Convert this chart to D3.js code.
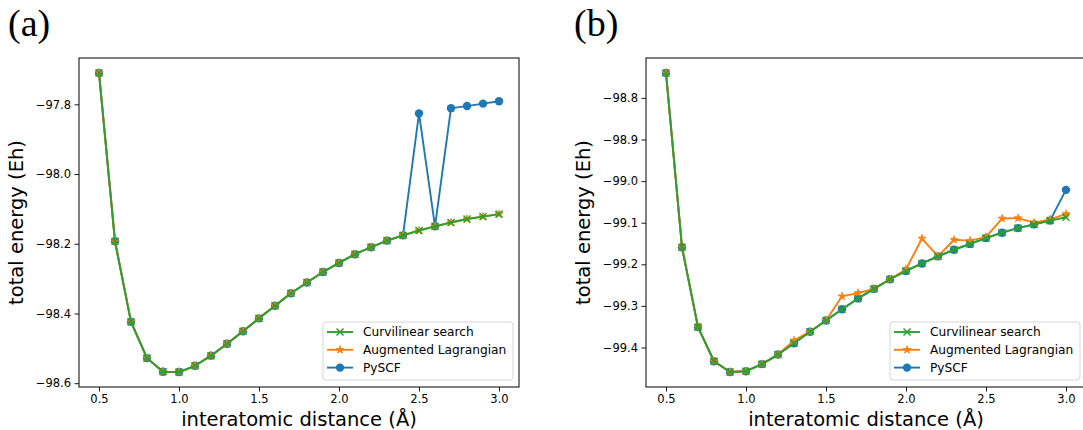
<!DOCTYPE html>
<html>
<head>
<meta charset="utf-8">
<script src="https://cdn.jsdelivr.net/npm/d3@7"></script>
<style>
  body { margin: 0; background: #fff; }
  svg { display: block; }
  text { font-family: "DejaVu Sans", sans-serif; fill: #000; }
  .panel-label { font-family: "Liberation Serif", "Times New Roman", serif; font-size: 38px; }
  .tick-label { font-size: 11.5px; }
  .axis-title { font-size: 19.5px; }
  .legend-text { font-size: 12.2px; }
</style>
</head>
<body>
<div id="chart"></div>
<script>

// interatomic distance in Å
const distances = [0.5, 0.6, 0.7, 0.8, 0.9, 1.0, 1.1, 1.2, 1.3, 1.4, 1.5, 1.6, 1.7,
	1.8, 1.9, 2.0, 2.1, 2.2, 2.3, 2.4, 2.5, 2.6, 2.7, 2.8, 2.9, 3.0];

// panel (a)
const curvilinearA = [-97.710, -98.193, -98.424, -98.528, -98.567, -98.568, -98.550, -98.521,
	-98.487, -98.451, -98.414, -98.378, -98.342, -98.311, -98.281, -98.255, -98.230,
	-98.210, -98.191, -98.176, -98.162, -98.150, -98.139, -98.129, -98.122, -98.115];
const augmentedA = [-97.710, -98.193, -98.424, -98.528, -98.567, -98.568, -98.550, -98.521,
	-98.487, -98.451, -98.414, -98.378, -98.342, -98.311, -98.281, -98.255, -98.230,
	-98.210, -98.191, -98.176, -98.162, -98.150, -98.139, -98.129, -98.122, -98.115];
const pyscfA = [-97.710, -98.193, -98.424, -98.528, -98.567, -98.568, -98.550, -98.521,
	-98.487, -98.451, -98.414, -98.378, -98.342, -98.311, -98.281, -98.255, -98.230,
	-98.210, -98.191, -98.176, -97.826, -98.150, -97.811, -97.805, -97.798, -97.791];

// panel (b)
const curvilinearB = [-98.740, -99.159, -99.351, -99.433, -99.459, -99.457, -99.440, -99.417,
	-99.390, -99.362, -99.335, -99.308, -99.282, -99.259, -99.236, -99.216, -99.198,
	-99.181, -99.165, -99.151, -99.137, -99.124, -99.113, -99.104, -99.095, -99.087];
const augmentedB = [-98.740, -99.159, -99.351, -99.433, -99.459, -99.457, -99.440, -99.417,
	-99.383, -99.362, -99.335, -99.277, -99.269, -99.259, -99.236, -99.212, -99.138,
	-99.181, -99.141, -99.143, -99.134, -99.090, -99.089, -99.100, -99.092, -99.079];
const pyscfB = [-98.740, -99.159, -99.351, -99.433, -99.459, -99.457, -99.440, -99.417,
	-99.390, -99.362, -99.335, -99.308, -99.282, -99.259, -99.236, -99.216, -99.198,
	-99.181, -99.165, -99.151, -99.137, -99.124, -99.113, -99.104, -99.095, -99.021];

const xTicks = [0.5, 1.0, 1.5, 2.0, 2.5, 3.0];
const yTicksA = [-97.8, -98.0, -98.2, -98.4, -98.6];
const yTicksB = [-98.8, -98.9, -99.0, -99.1, -99.2, -99.3, -99.4];

const seriesNames = ["Curvilinear search", "Augmented Lagrangian", "PySCF"];

const WIDTH = 1083;
const HEIGHT = 430;
const PLOT_W = 440;
const PLOT_TOP = 58;
const PLOT_BOTTOM = 387;
const TICK_SIZE = 4.5;
const LINE_W = 1.9;

const colors = {
	pyscf: "#1f77b4",
	augmented: "#ff7f0e",
	curvilinear: "#2ca02c"
};

const svg = d3.select("#chart").append("svg")
	.attr("width", WIDTH)
	.attr("height", HEIGHT);

function drawMarker (g, kind, x, y) {
	if (kind == "pyscf") {
		g.append("circle")
			.attr("cx", x).attr("cy", y).attr("r", 4.2)
			.attr("fill", colors.pyscf);
	} else if (kind == "augmented") {
		g.append("path")
			.attr("transform", `translate(${x},${y})`)
			.attr("d", d3.symbol(d3.symbolStar, 20)())
			.attr("fill", colors.augmented)
			.attr("stroke", colors.augmented)
			.attr("stroke-width", 0.8);
	} else {
		const s = 3.5;
		g.append("path")
			.attr("d", `M${x - s},${y - s}L${x + s},${y + s}M${x - s},${y + s}L${x + s},${y - s}`)
			.attr("stroke", colors.curvilinear)
			.attr("stroke-width", 1.5)
			.attr("fill", "none");
	}
}

function drawPanel (opts) {

	const left = opts.left;
	const all = opts.curvilinear.concat(opts.augmented, opts.pyscf);
	const ext = d3.extent(all);
	const pad = (ext[1] - ext[0]) * 0.05;

	const x = d3.scaleLinear()
		.domain([0.5 - 0.125, 3.0 + 0.125])
		.range([left, left + PLOT_W]);

	const y = d3.scaleLinear()
		.domain([ext[0] - pad, ext[1] + pad])
		.range([PLOT_BOTTOM, PLOT_TOP]);

	const g = svg.append("g");

	// panel label
	g.append("text")
		.attr("class", "panel-label")
		.attr("x", opts.labelX)
		.attr("y", 36)
		.text(opts.label);

	// axes
	const axisX = g.append("g")
		.attr("transform", `translate(0,${PLOT_BOTTOM})`)
		.call(d3.axisBottom(x).tickValues(xTicks).tickSize(TICK_SIZE).tickPadding(3.5)
			.tickFormat(d3.format(".1f")));

	const axisY = g.append("g")
		.attr("transform", `translate(${left},0)`)
		.call(d3.axisLeft(y).tickValues(opts.yTicks).tickSize(TICK_SIZE).tickPadding(3.5)
			.tickFormat(d3.format(".1f")));

	[axisX, axisY].forEach(a => {
		a.select(".domain").remove();
		a.selectAll("line").attr("stroke", "#000").attr("stroke-width", 0.9);
		a.selectAll("text").attr("class", "tick-label").attr("font-family", null).attr("font-size", null);
	});

	// series: PySCF underneath, curvilinear on top
	const clip = "clip-" + opts.label.replace(/\W/g, "");
	g.append("clipPath").attr("id", clip)
		.append("rect")
		.attr("x", left).attr("y", PLOT_TOP)
		.attr("width", PLOT_W).attr("height", PLOT_BOTTOM - PLOT_TOP);

	const plot = g.append("g").attr("clip-path", `url(#${clip})`);

	const line = d3.line()
		.x(d => x(d[0]))
		.y(d => y(d[1]));

	[["pyscf", opts.pyscf], ["augmented", opts.augmented], ["curvilinear", opts.curvilinear]].forEach(([kind, values]) => {
		const pts = distances.map((d, i) => [d, values[i]]);
		const sg = plot.append("g");
		sg.append("path")
			.attr("d", line(pts))
			.attr("fill", "none")
			.attr("stroke", colors[kind])
			.attr("stroke-width", LINE_W)
			.attr("stroke-linejoin", "round");
		pts.forEach(p => drawMarker(sg, kind, x(p[0]), y(p[1])));
	});

	// frame
	g.append("rect")
		.attr("x", left).attr("y", PLOT_TOP)
		.attr("width", PLOT_W).attr("height", PLOT_BOTTOM - PLOT_TOP)
		.attr("fill", "none")
		.attr("stroke", "#000")
		.attr("stroke-width", 1);

	// axis titles
	g.append("text")
		.attr("class", "axis-title")
		.attr("text-anchor", "middle")
		.attr("x", left + PLOT_W / 2)
		.attr("y", 426)
		.text("interatomic distance (Å)");

	g.append("text")
		.attr("class", "axis-title")
		.attr("text-anchor", "middle")
		.attr("transform", `translate(${left - 56},${(PLOT_TOP + PLOT_BOTTOM) / 2}) rotate(-90)`)
		.text("total energy (Eh)");

	// legend, lower right
	const lw = 190, lh = 58;
	const lx = left + PLOT_W - 6 - lw;
	const ly = PLOT_BOTTOM - 7 - lh;
	const lg = g.append("g").attr("transform", `translate(${lx},${ly})`);
	lg.append("rect")
		.attr("width", lw).attr("height", lh)
		.attr("rx", 3)
		.attr("fill", "#fff")
		.attr("fill-opacity", 0.8)
		.attr("stroke", "#d6d6d6")
		.attr("stroke-width", 1);

	["curvilinear", "augmented", "pyscf"].forEach((kind, i) => {
		const ry = 10 + i * 17.8;
		lg.append("line")
			.attr("x1", 4).attr("x2", 30)
			.attr("y1", ry).attr("y2", ry)
			.attr("stroke", colors[kind])
			.attr("stroke-width", LINE_W);
		drawMarker(lg, kind, 17, ry);
		lg.append("text")
			.attr("class", "legend-text")
			.attr("x", 40)
			.attr("y", ry)
			.attr("dy", "0.36em")
			.text(seriesNames[i]);
	});
}

drawPanel({
	label: "(a)",
	labelX: 8,
	left: 79,
	yTicks: yTicksA,
	curvilinear: curvilinearA,
	augmented: augmentedA,
	pyscf: pyscfA
});

drawPanel({
	label: "(b)",
	labelX: 574,
	left: 646,
	yTicks: yTicksB,
	curvilinear: curvilinearB,
	augmented: augmentedB,
	pyscf: pyscfB
});

</script>
</body>
</html>
